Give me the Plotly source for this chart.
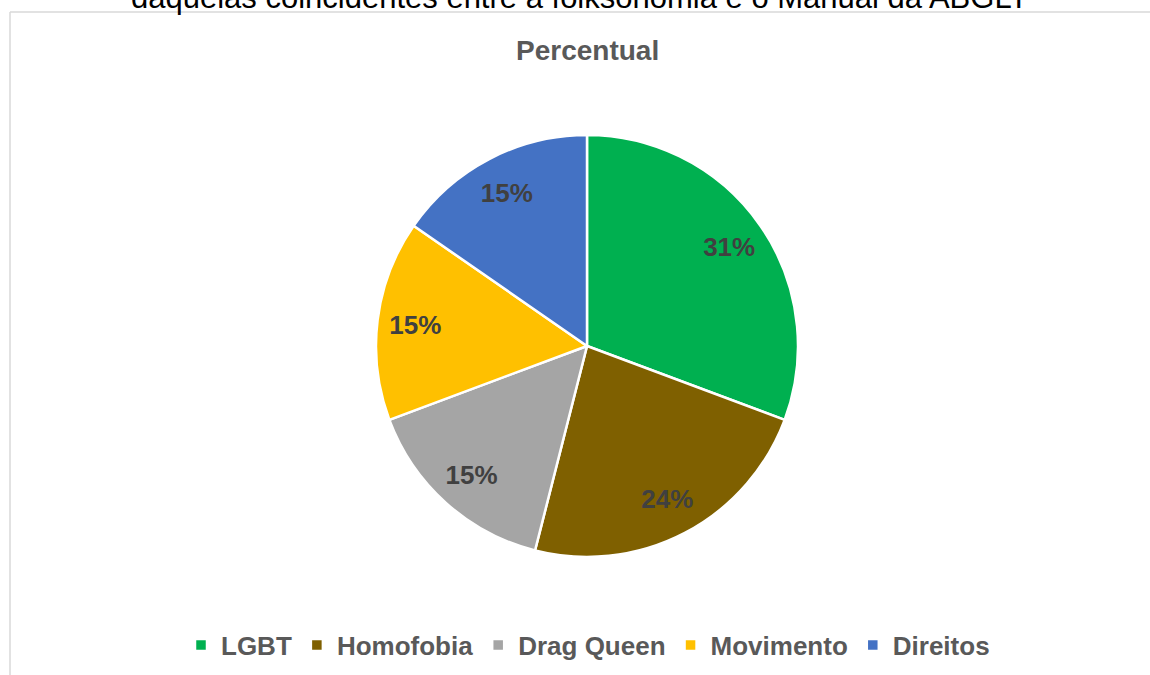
import plotly.graph_objects as go

categories = ["LGBT", "Homofobia", "Drag Queen", "Movimento", "Direitos"]
values = [31, 23.5, 15.5, 15.5, 15.5]
value_labels = ["31%", "24%", "15%", "15%", "15%"]
colors = ["#00B050", "#7F6000", "#A5A5A5", "#FFC000", "#4472C4"]

W, H = 1150, 675
cx, cy, r = 587, 346, 211
FONT = "Liberation Sans, Arial"
domain = dict(x=[(cx - r) / W, (cx + r) / W], y=[1 - (cy + r) / H, 1 - (cy - r) / H])

fig = go.Figure()
fig.add_trace(go.Pie(
    labels=categories,
    values=values,
    sort=False,
    direction="clockwise",
    rotation=0,
    marker=dict(colors=colors, line=dict(color="white", width=2.5)),
    textinfo="none",
    domain=domain,
    hoverinfo="label+percent",
))
# transparent ring used only to place the percentage labels
fig.add_trace(go.Pie(
    labels=categories,
    values=values,
    text=value_labels,
    sort=False,
    direction="clockwise",
    rotation=0,
    hole=0.64,
    marker=dict(colors=["rgba(0,0,0,0)"] * len(values), line=dict(width=0)),
    texttemplate="%{text}",
    textposition="inside",
    insidetextorientation="horizontal",
    textfont=dict(family=FONT, size=26, color="#404040", weight="bold"),
    domain=domain,
    showlegend=False,
    hoverinfo="skip",
))

fig.update_layout(
    width=W, height=H,
    margin=dict(l=0, r=0, t=0, b=0),
    paper_bgcolor="white",
    plot_bgcolor="white",
    font=dict(family=FONT, color="#595959"),
    showlegend=True,
    legend=dict(
        orientation="h",
        x=588 / W, xanchor="center",
        y=1 - 645 / H, yanchor="middle",
        font=dict(size=26, color="#595959", weight="bold"),
        itemwidth=30,
        traceorder="normal",
    ),
    annotations=[
        dict(text="Percentual", x=587 / W, y=1 - 50 / H, xref="paper", yref="paper",
             showarrow=False, xanchor="center", yanchor="middle",
             font=dict(size=28, color="#595959", weight="bold")),
        dict(text="daquelas coincidentes entre a folksonomia e o Manual da ABGLT",
             x=579 / W, y=1 - 17 / H, xref="paper", yref="paper",
             showarrow=False, xanchor="center", yanchor="bottom",
             font=dict(size=31, color="#000000")),
    ],
    shapes=[
        dict(type="line", xref="paper", yref="paper", x0=10 / W, x1=10 / W, y0=1 - 12 / H, y1=-0.1,
             line=dict(color="#D9D9D9", width=1.5)),
        dict(type="line", xref="paper", yref="paper", x0=10 / W, x1=1.1, y0=1 - 12 / H, y1=1 - 12 / H,
             line=dict(color="#D9D9D9", width=1.5)),
    ],
)

fig.write_html(
    "out.html",
    config={"displayModeBar": False},
    post_script="document.body.style.margin='0';document.body.style.overflow='hidden';",
)
